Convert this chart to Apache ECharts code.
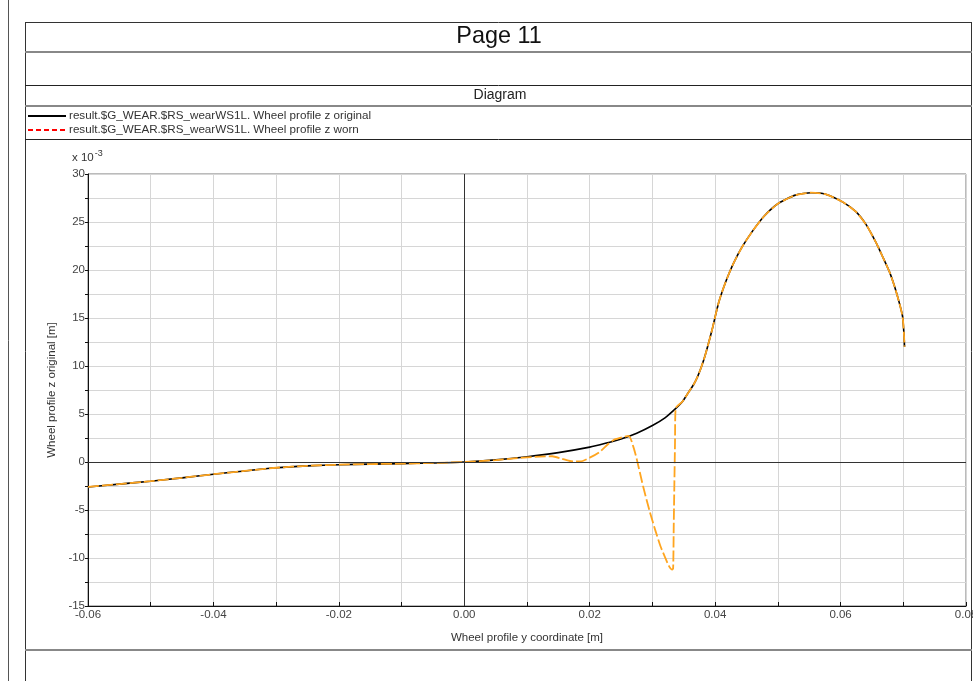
<!DOCTYPE html>
<html>
<head>
<meta charset="utf-8">
<script src="https://cdn.jsdelivr.net/npm/echarts@6/dist/echarts.min.js"></script>
<style>
html,body{margin:0;padding:0;background:#fff;}
#chart{width:973px;height:681px;}
</style>
</head>
<body>
<div id="chart"></div>
<script>
// ---- data ----
const pageTitle = 'Page 11';
const panelTitle = 'Diagram';
const seriesNames = [
  'result.$G_WEAR.$RS_wearWS1L. Wheel profile z original',
  'result.$G_WEAR.$RS_wearWS1L. Wheel profile z worn'
];
const xAxisName = 'Wheel profile y coordinate [m]';
const yAxisName = 'Wheel profile z original [m]';

// original profile: y coordinate [m] and z [x 10^-3 m]
const yOriginal = [-0.06, -0.055, -0.05, -0.045, -0.04, -0.035, -0.03, -0.025, -0.02, -0.015, -0.01, -0.005, 0,
  0.005, 0.01, 0.015, 0.02, 0.0225, 0.025, 0.0275, 0.03, 0.032, 0.0336, 0.0348, 0.0358, 0.0366, 0.0372, 0.0378,
  0.0384, 0.039, 0.0396, 0.0401, 0.0406, 0.0412, 0.042, 0.043, 0.0443, 0.0459, 0.0478, 0.05, 0.0528, 0.0553,
  0.0576, 0.0603, 0.0624, 0.0641, 0.0657, 0.0667, 0.0678, 0.0686, 0.0694, 0.0699, 0.0701, 0.0702];
const zOriginal = [-2.6, -2.3, -2.0, -1.65, -1.27, -0.93, -0.6, -0.4, -0.28, -0.22, -0.17, -0.1, 0,
  0.22, 0.55, 0.98, 1.55, 1.95, 2.4, 3.0, 3.8, 4.6, 5.5, 6.3, 7.3, 8.1, 8.9, 9.9,
  11.1, 12.5, 14.0, 15.4, 16.7, 17.9, 19.3, 20.8, 22.4, 24.0, 25.6, 26.9, 27.8, 28.05,
  27.9, 27.1, 26.1, 24.7, 22.8, 21.4, 19.8, 18.3, 16.5, 15.1, 13.4, 12.0];

// worn profile
const yWorn = [-0.06, -0.055, -0.05, -0.045, -0.04, -0.035, -0.03, -0.025, -0.02, -0.015, -0.01, -0.005, 0,
  0.005, 0.008, 0.01, 0.012, 0.014, 0.0155, 0.017, 0.0185, 0.02, 0.0215, 0.023, 0.024, 0.0262,
  0.027, 0.0275, 0.0285, 0.0295, 0.0305, 0.0313, 0.032, 0.0326, 0.0331, 0.0333, 0.0334, 0.0336, 0.0337,
  0.0348, 0.0358, 0.0366, 0.0372, 0.0378, 0.0384, 0.039, 0.0396, 0.0401, 0.0406, 0.0412, 0.042, 0.043,
  0.0443, 0.0459, 0.0478, 0.05, 0.0528, 0.0553, 0.0576, 0.0603, 0.0624, 0.0641, 0.0657, 0.0667, 0.0678,
  0.0686, 0.0694, 0.0699, 0.0701, 0.0702];
const zWorn = [-2.6, -2.3, -2.0, -1.65, -1.27, -0.93, -0.6, -0.4, -0.28, -0.22, -0.17, -0.1, 0,
  0.2, 0.38, 0.48, 0.56, 0.6, 0.35, 0.08, 0.05, 0.45, 1.0, 1.9, 2.35, 2.72,
  1.5, 0.3, -2.5, -5.0, -7.2, -8.8, -9.9, -10.8, -11.2, -11.1, -6.5, 2.0, 5.6,
  6.3, 7.3, 8.1, 8.9, 9.9, 11.1, 12.5, 14.0, 15.4, 16.7, 17.9, 19.3, 20.8,
  22.4, 24.0, 25.6, 26.9, 27.8, 28.05, 27.9, 27.1, 26.1, 24.7, 22.8, 21.4, 19.8,
  18.3, 16.5, 15.1, 13.4, 12.0];

const xTicks = {min: -0.06, max: 0.08, interval: 0.02};
const yTicks = {min: -15, max: 30, interval: 5};

// ---- chart ----
const pairs = (xs, zs) => xs.map((x, i) => [x, zs[i]]);
const chart = echarts.init(document.getElementById('chart'), null, {renderer: 'canvas'});
const FONT = '"Liberation Sans", Arial, sans-serif';

function hline(y, x1, x2, color, w) {
  return {type: 'line', silent: true, z: 100, shape: {x1: x1, y1: y, x2: x2, y2: y}, style: {stroke: color, lineWidth: w}};
}
function vline(x, y1, y2, color, w) {
  return {type: 'line', silent: true, z: 100, shape: {x1: x, y1: y1, x2: x, y2: y2}, style: {stroke: color, lineWidth: w}};
}

const option = {
  animation: false,
  backgroundColor: '#fff',
  textStyle: {fontFamily: FONT},
  grid: {left: 88, right: 7, top: 174, bottom: 75, outerBoundsMode: 'none', containLabel: false,
    show: true, borderColor: '#777', borderWidth: 1, backgroundColor: 'transparent'},
  legend: {
    left: 27, top: 110, padding: 0, orient: 'vertical', itemWidth: 38, itemHeight: 8, itemGap: 2,
    textStyle: {fontFamily: FONT, fontSize: 11.65, color: '#333', padding: [0, 0, 0, -2]},
    data: [
      {name: seriesNames[0], lineStyle: {color: '#000', width: 2, type: 'solid'},
        itemStyle: {color: 'rgba(0,0,0,0)', borderColor: 'rgba(0,0,0,0)', borderWidth: 0, opacity: 0}},
      {name: seriesNames[1], lineStyle: {color: '#ff0000', width: 2, type: [5, 3]},
        itemStyle: {color: 'rgba(0,0,0,0)', borderColor: 'rgba(0,0,0,0)', borderWidth: 0, opacity: 0}}
    ]
  },
  xAxis: {
    type: 'value', min: xTicks.min, max: xTicks.max, interval: xTicks.interval,
    name: xAxisName, nameLocation: 'middle', nameGap: 26,
    nameTextStyle: {fontFamily: FONT, fontSize: 11.5, color: '#333'},
    axisLine: {onZero: false, lineStyle: {color: '#111', width: 1}},
    axisTick: {inside: true, length: 4, lineStyle: {color: '#111'}},
    minorTick: {show: true, splitNumber: 2, length: 4, lineStyle: {color: '#111'}},
    splitLine: {show: true, lineStyle: {color: '#d6d6d6', width: 1}},
    minorSplitLine: {show: true, lineStyle: {color: '#d6d6d6', width: 1}},
    axisLabel: {fontFamily: FONT, fontSize: 11.5, color: '#444', margin: 3,
      formatter: v => v.toFixed(2)}
  },
  yAxis: {
    type: 'value', min: yTicks.min, max: yTicks.max, interval: yTicks.interval,
    name: yAxisName, nameLocation: 'middle', nameGap: 30,
    nameTextStyle: {fontFamily: FONT, fontSize: 11.5, color: '#333'},
    axisLine: {onZero: false, lineStyle: {color: '#111', width: 1}},
    axisTick: {inside: false, length: 3, lineStyle: {color: '#111'}},
    minorTick: {show: true, splitNumber: 2, length: 3, lineStyle: {color: '#111'}},
    splitLine: {show: true, lineStyle: {color: '#d6d6d6', width: 1}},
    minorSplitLine: {show: true, lineStyle: {color: '#d6d6d6', width: 1}},
    axisLabel: {fontFamily: FONT, fontSize: 11.5, color: '#444', margin: 3}
  },
  series: [
    {
      name: seriesNames[0], type: 'line', data: pairs(yOriginal, zOriginal),
      showSymbol: false, symbol: 'none', smooth: 0.2,
      lineStyle: {color: '#000', width: 1.6},
      itemStyle: {color: '#000'},
      markLine: {
        silent: true, symbol: ['none', 'none'], label: {show: false},
        lineStyle: {color: '#333', type: 'solid', width: 1},
        data: [{xAxis: 0}, {yAxis: 0}]
      },
      z: 3
    },
    {
      name: seriesNames[1], type: 'line', data: pairs(yWorn, zWorn),
      showSymbol: false, symbol: 'none', smooth: 0.2,
      lineStyle: {color: '#ffa51f', width: 1.8, type: [11, 3]},
      itemStyle: {color: '#ff0000'},
      z: 4
    }
  ],
  graphic: [
    vline(8.5, 0, 681, '#555', 1),
    vline(25.5, 22, 681, '#333', 1),
    vline(971.5, 22, 681, '#333', 1),
    hline(22.5, 25, 972, '#333', 1),
    hline(52, 25, 972, '#888', 2),
    hline(85.5, 25, 972, '#222', 1),
    hline(106, 25, 972, '#888', 2),
    hline(139.5, 25, 972, '#222', 1),
    hline(650, 25, 972, '#888', 2),
    {type: 'text', x: 499, y: 25, silent: true, z: 100,
      style: {text: pageTitle, font: '23.4px ' + FONT, fill: '#111', align: 'center'}},
    {type: 'text', x: 500, y: 88, silent: true, z: 100,
      style: {text: panelTitle, font: '14px ' + FONT, fill: '#222', align: 'center'}},
    {type: 'text', left: 72, top: 149, silent: true, z: 100,
      style: {text: 'x 10{sup|-3}', font: '11.5px ' + FONT, fill: '#333',
        rich: {sup: {fontSize: 9, fontFamily: FONT, fill: '#333', verticalAlign: 'top', padding: [0, 0, 8, 1]}}}}
  ]
};
chart.setOption(option);
</script>
</body>
</html>
